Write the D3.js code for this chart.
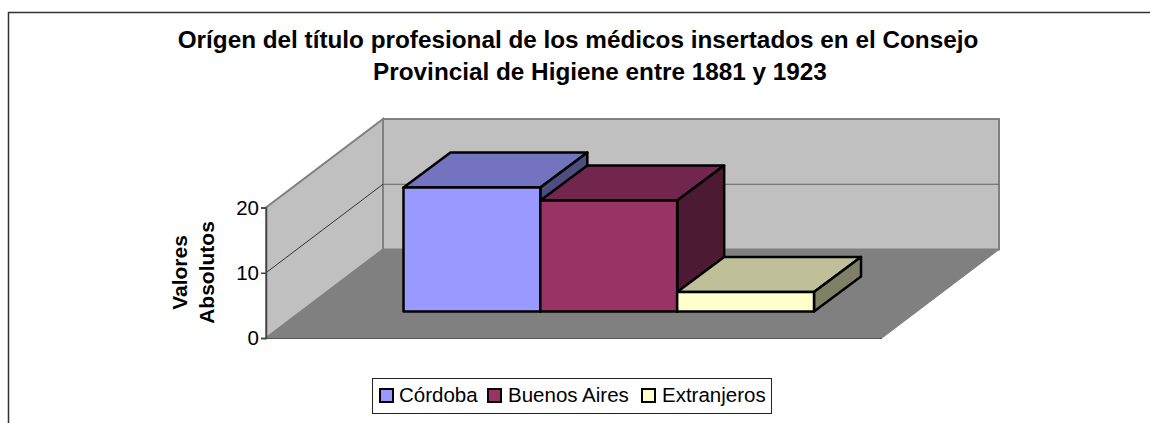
<!DOCTYPE html>
<html>
<head>
<meta charset="utf-8">
<script src="https://cdn.jsdelivr.net/npm/d3@7"></script>
<style>
body { margin: 0; background: #fff; }
text { font-family: "Liberation Sans", Arial, sans-serif; fill: #000; }
</style>
</head>
<body>
<div id="chart"></div>
<script>
const categories = ['Córdoba', 'Buenos Aires', 'Extranjeros'];
const values = [19, 17, 3];
const frontColors = ['#9999ff', '#993366', '#ffffcc'];
const topColors = ['#7373bf', '#73264d', '#bfbf99'];
const sideColors = ['#4d4d80', '#4d1a33', '#808066'];
const yTicks = [0, 10, 20];
const titleLines = ['Orígen del título profesional de los médicos insertados en el Consejo',
                    'Provincial de Higiene entre 1881 y 1923'];
const yTitleLines = ['Valores', 'Absolutos'];

const width = 1150, height = 423;

const svg = d3.select('#chart')
                .append('svg')
                .attr('width', width)
                .attr('height', height)
                .style('display', 'block');

// outer frame, open on the right and at the bottom
svg.append('path')
    .attr('d', 'M8.5,423V12.5H1150')
    .attr('fill', 'none')
    .attr('stroke', '#333')
    .attr('stroke-width', 1.5);

svg.selectAll('.title')
    .data(titleLines)
    .enter()
    .append('text')
    .attr('class', 'title')
    .attr('x', (d, i) => i == 0 ? 578 : 600)
    .attr('y', (d, i) => 48 + i * 32)
    .style('text-anchor', 'middle')
    .style('font-size', '24.3px')
    .style('font-weight', 'bold')
    .text(d => d);

// plot box: front left corner, floor width and wall depth offset
const x0 = 266, x1 = 882;
const depthX = 117, depthY = -88.5;

let scaleY = d3.scaleLinear().domain([0, 20]).range([338, 207.5]);

// bars sit part way into the floor
const barLift = 26.5, barDepthX = 47, barDepthY = -35;
let scaleX = d3.scaleBand().domain(categories).range([403.5, 814]);

const line = d3.line();
const poly = pts => line(pts) + 'Z';

const y0 = scaleY(0), yTop = scaleY(20);

// side wall
svg.append('path')
    .attr('d', poly([[x0, y0], [x0, yTop], [x0 + depthX, yTop + depthY], [x0 + depthX, y0 + depthY]]))
    .attr('fill', '#c0c0c0')
    .attr('stroke', '#808080')
    .attr('stroke-width', 2);

// back wall
svg.append('path')
    .attr('d', poly([[x0 + depthX, y0 + depthY], [x0 + depthX, yTop + depthY], [x1 + depthX, yTop + depthY], [x1 + depthX, y0 + depthY]]))
    .attr('fill', '#c0c0c0')
    .attr('stroke', '#808080')
    .attr('stroke-width', 2);

// floor
svg.append('path')
    .attr('d', poly([[x0, y0], [x1, y0], [x1 + depthX, y0 + depthY], [x0 + depthX, y0 + depthY]]))
    .attr('fill', '#808080')
    .attr('stroke', '#808080');

svg.append('line')
    .attr('x1', x0).attr('x2', x1)
    .attr('y1', y0 + 0.5).attr('y2', y0 + 0.5)
    .attr('stroke', '#555')
    .attr('stroke-width', 1);

// gridline on the walls
yTicks.filter(t => t > 0 && t < 20).forEach(t => {
    svg.append('path')
        .attr('d', line([[x0, scaleY(t)], [x0 + depthX, scaleY(t) + depthY]]))
        .attr('fill', 'none')
        .attr('stroke', '#111')
        .attr('stroke-width', 0.8);
    svg.append('line')
        .attr('x1', x0 + depthX).attr('x2', x1 + depthX)
        .attr('y1', scaleY(t) + depthY).attr('y2', scaleY(t) + depthY)
        .attr('stroke', '#606060')
        .attr('stroke-width', 1.2);
});

// bars, left to right so each one covers the side of the previous
const bars = svg.selectAll('.bar')
    .data(categories)
    .enter()
    .append('g')
    .attr('class', 'bar');

const barPts = (d, i) => {
    let l = scaleX(d), r = l + scaleX.bandwidth();
    let b = y0 - barLift, t = scaleY(values[i]) - barLift;
    return {l, r, b, t};
};

bars.append('path')
    .attr('d', (d, i) => {
        let p = barPts(d, i);
        return poly([[p.l, p.t], [p.r, p.t], [p.r + barDepthX, p.t + barDepthY], [p.l + barDepthX, p.t + barDepthY]]);
    })
    .style('fill', (d, i) => topColors[i]);

bars.append('path')
    .attr('d', (d, i) => {
        let p = barPts(d, i);
        return poly([[p.r, p.t], [p.r + barDepthX, p.t + barDepthY], [p.r + barDepthX, p.b + barDepthY], [p.r, p.b]]);
    })
    .style('fill', (d, i) => sideColors[i]);

bars.append('path')
    .attr('d', (d, i) => {
        let p = barPts(d, i);
        return poly([[p.l, p.t], [p.r, p.t], [p.r, p.b], [p.l, p.b]]);
    })
    .style('fill', (d, i) => frontColors[i]);

bars.selectAll('path')
    .attr('stroke', '#000')
    .attr('stroke-width', 2.5)
    .attr('stroke-linejoin', 'round');

// y axis
let yAxis = d3.axisLeft(scaleY).tickValues(yTicks).tickSize(5).tickPadding(2);
const yAxisGroup = svg.append('g')
    .attr('transform', 'translate(' + x0 + ',0)')
    .call(yAxis);
yAxisGroup.selectAll('text').style('font-size', '20.5px').style('font-family', '"Liberation Sans", Arial, sans-serif');
yAxisGroup.selectAll('path, line').attr('stroke', '#444').attr('stroke-width', 1.5);

svg.selectAll('.ytitle')
    .data(yTitleLines)
    .enter()
    .append('text')
    .attr('class', 'ytitle')
    .attr('transform', (d, i) => 'translate(' + (187 + i * 27) + ',272.5) rotate(-90)')
    .style('text-anchor', 'middle')
    .style('font-size', '21px')
    .style('font-weight', 'bold')
    .text(d => d);

// legend
svg.append('rect')
    .attr('x', 372.5).attr('y', 378.5)
    .attr('width', 399).attr('height', 35)
    .attr('fill', '#fff')
    .attr('stroke', '#222')
    .attr('stroke-width', 1);

const legendSwatchX = [380, 488, 642];
const legend = svg.selectAll('.legend')
    .data(categories)
    .enter()
    .append('g')
    .attr('class', 'legend')
    .attr('transform', (d, i) => 'translate(' + legendSwatchX[i] + ',389)');

legend.append('rect')
    .attr('width', 13).attr('height', 13)
    .attr('fill', (d, i) => frontColors[i])
    .attr('stroke', '#000')
    .attr('stroke-width', 2);

legend.append('text')
    .attr('x', (d, i) => i == 0 ? 19 : 20).attr('y', 13)
    .style('font-size', '20.5px')
    .text(d => d);
</script>
</body>
</html>
